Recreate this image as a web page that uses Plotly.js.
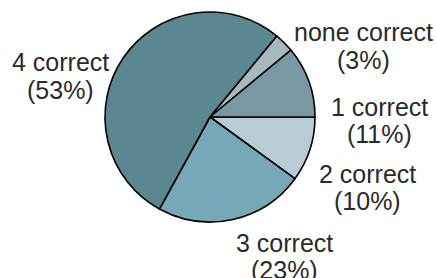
<!DOCTYPE html>
<html>
<head>
<meta charset="utf-8">
<script src="https://cdn.plot.ly/plotly-3.0.1.min.js"></script>
<style>html,body{margin:0;padding:0;background:#fff;}#chart{width:436px;height:278px;}</style>
</head>
<body>
<div id="chart"></div>
<script>
// Data (clockwise starting at 3 o'clock)
var categories = ["2 correct", "3 correct", "4 correct", "none correct", "1 correct"];
var percents = [10, 23, 53, 3, 11];
var colors = ["#b8ccd6", "#76a8b7", "#5d8790", "#a7b9bf", "#7a98a2"];

// Label placement (pixel centre of each text block) - layout only
var labelPos = {
  "2 correct": [367, 187],
  "3 correct": [284, 256],
  "4 correct": [60, 76],
  "none correct": [363, 46],
  "1 correct": [379, 120]
};

var W = 436, H = 278;
var cx = 210, cy = 117, R = 105;

var trace = {
  type: "pie",
  labels: categories,
  values: percents,
  sort: false,
  direction: "clockwise",
  rotation: 90,
  textinfo: "none",
  hoverinfo: "label+percent",
  marker: {colors: colors, line: {color: "#000", width: 1.6}},
  domain: {x: [(cx - R) / W, (cx + R) / W], y: [(H - cy - R) / H, (H - cy + R) / H]},
  showlegend: false
};

var annotations = [];
var lineGap = 27;
categories.forEach(function (c, i) {
  var p = labelPos[c];
  var lines = [c, "(" + percents[i] + "%)"];
  lines.forEach(function (t, j) {
    var py = p[1] + (j - 0.5) * lineGap;
    annotations.push({
      text: t, xref: "paper", yref: "paper",
      x: p[0] / W, y: 1 - py / H,
      xanchor: "center", yanchor: "middle", showarrow: false,
      font: {family: "Liberation Sans, Arial, sans-serif", size: 25, color: "#2a2a2a"}
    });
  });
});

Plotly.newPlot("chart", [trace], {
  width: W, height: H,
  margin: {l: 0, r: 0, t: 0, b: 0},
  paper_bgcolor: "#fff",
  annotations: annotations
}, {displayModeBar: false, staticPlot: true});
</script>
</body>
</html>
